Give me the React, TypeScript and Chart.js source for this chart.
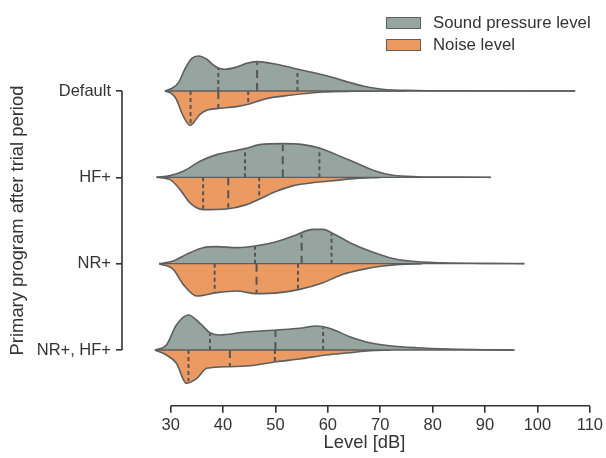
import React, { useEffect, useRef } from "react";
import { Chart, registerables } from "chart.js";

Chart.register(...registerables);

// ---------- data ----------
const CATEGORIES = ["Default", "HF+", "NR+", "NR+, HF+"];
const SERIES = ["Sound pressure level", "Noise level"];
const X_TICKS = [30, 40, 50, 60, 70, 80, 90, 100, 110];

// Kernel density (relative units) of each half-violin, sampled at levels in dB
const DEFAULT_SPL_X = [28.9, 30.2, 31.5, 32.7, 34, 35.3, 36.9, 38.4, 40.3, 42.6, 44.5, 46.4, 50.2, 54.3, 57.8, 61, 64.2, 66.7, 70.4, 76.9, 85, 107.2];
const DEFAULT_SPL_D = [0, 2.5, 8.4, 21.7, 32.4, 35, 31.7, 25, 21.7, 24, 27.7, 29.4, 26.7, 21.7, 17.7, 13.4, 8.4, 5, 1.7, 0.5, 0.2, 0];
const DEFAULT_NOISE_X = [28.9, 30.2, 31.1, 32.3, 33.7, 35.6, 37, 38.8, 42.6, 44.8, 48.3, 52.7, 59, 65, 75];
const DEFAULT_NOISE_D = [0, 2.5, 8.3, 24, 34.3, 23.3, 19, 17.6, 15.6, 13.3, 7.6, 4.3, 1, 0.3, 0];

const HF_SPL_X = [27.3, 29.9, 32.4, 35.6, 38.8, 44.2, 47, 51.4, 55.3, 58.4, 61.6, 65.4, 69.2, 72.4, 77, 85, 91.1];
const HF_SPL_D = [0, 1.7, 6, 16, 22.7, 28.7, 32.7, 33.7, 32.7, 29.4, 22.7, 14.4, 6, 2, 0.6, 0.2, 0];
const HF_NOISE_X = [27.3, 29.9, 31.8, 33.7, 36.2, 40.7, 44.5, 47, 50.2, 53.4, 57.8, 61.6, 65.4, 70];
const HF_NOISE_D = [0, 2.3, 12.3, 25.6, 32.3, 31.6, 27.3, 21.6, 14, 8.3, 5, 3, 1, 0];

const NR_SPL_X = [27.8, 30.5, 33, 36.2, 38.8, 42.6, 46.1, 50.2, 53.4, 57.2, 59.1, 60.7, 64.2, 68, 71.8, 75.6, 82, 90, 97.5];
const NR_SPL_D = [0, 2.6, 9.3, 16, 17, 16, 17.6, 22, 27.6, 34.3, 34.3, 31, 21, 12.6, 6, 2.6, 0.8, 0.3, 0];
const NR_NOISE_X = [27.8, 30.5, 32.4, 35, 38.8, 42.6, 46.4, 50.8, 54.6, 59.1, 62.9, 66.7, 70.5, 73.7, 78];
const NR_NOISE_D = [0, 5.7, 20.7, 32.4, 29, 27.4, 30, 29, 25.7, 19, 10.7, 5.7, 2.4, 0.7, 0];

const NRHF_SPL_X = [27, 29.2, 31.1, 33.4, 35.6, 37.5, 39.4, 43.8, 50.2, 54.6, 57.8, 60.3, 64.2, 68, 71.8, 76.9, 83.2, 90, 95.6];
const NRHF_SPL_D = [0, 5, 25, 35, 26.7, 17.3, 15, 17.7, 20, 21.7, 24, 21.7, 13.3, 7.3, 4.3, 2.3, 1, 0.3, 0];
const NRHF_NOISE_X = [27, 29.2, 31.1, 33, 35, 36.9, 41.3, 45.1, 50.2, 54.6, 59.7, 64.2, 68, 72];
const NRHF_NOISE_D = [0, 5, 13.3, 33.3, 28.3, 18.3, 16.7, 15.7, 11.7, 9, 5, 2.7, 0.7, 0];

// Quartiles (Q1, median, Q3) in dB
const SPL_QUARTILES = [
  [39.1, 46.5, 54.2],
  [44.2, 51.4, 58.4],
  [46.1, 55.0, 60.7],
  [37.5, 50.0, 59.1],
];
const NOISE_QUARTILES = [
  [33.8, 39.1, 44.8],
  [36.2, 41.0, 46.9],
  [38.4, 46.4, 54.3],
  [33.4, 41.3, 49.9],
];

// ---------- styling ----------
const GREY = "#96a59f";
const ORANGE = "#eb9a61";
const OUTLINE = "#5e5e5e";
const AXIS = "#333333";
const FONT = "'Liberation Sans', Arial, sans-serif";
const FONT_SIZE = 16.5;
const TITLE_SIZE = 18.4;
const LEGEND_SIZE = 16.8;
const DENS_SCALE = 1 / 86.33; // density unit -> category units

const SPL_X = [DEFAULT_SPL_X, HF_SPL_X, NR_SPL_X, NRHF_SPL_X];
const SPL_D = [DEFAULT_SPL_D, HF_SPL_D, NR_SPL_D, NRHF_SPL_D];
const NOISE_X = [DEFAULT_NOISE_X, HF_NOISE_X, NR_NOISE_X, NRHF_NOISE_X];
const NOISE_D = [DEFAULT_NOISE_D, HF_NOISE_D, NR_NOISE_D, NRHF_NOISE_D];

function interp(xs: number[], ds: number[], q: number): number {
  for (let k = 0; k < xs.length - 1; k++) {
    if (q >= xs[k] && q <= xs[k + 1]) {
      const t = (q - xs[k]) / (xs[k + 1] - xs[k]);
      return ds[k] + t * (ds[k + 1] - ds[k]);
    }
  }
  return 0;
}

function buildDatasets() {
  const ds: any[] = [];
  for (let i = 0; i < CATEGORIES.length; i++) {
    const halves = [
      { xs: SPL_X[i], d: SPL_D[i], sign: -1, color: GREY, q: SPL_QUARTILES[i], label: SERIES[0] },
      { xs: NOISE_X[i], d: NOISE_D[i], sign: 1, color: ORANGE, q: NOISE_QUARTILES[i], label: SERIES[1] },
    ];
    halves.forEach((h) => {
      ds.push({
        label: h.label,
        data: h.xs.map((x, k) => ({ x, y: i + h.sign * h.d[k] * DENS_SCALE })),
        fill: { value: i },
        backgroundColor: h.color,
        borderColor: OUTLINE,
        borderWidth: 1.6,
        pointRadius: 0,
        cubicInterpolationMode: "monotone",
        order: 3,
      });
      h.q.forEach((qv, j) => {
        const dv = interp(h.xs, h.d, qv);
        ds.push({
          label: h.label + " quartile",
          data: [
            { x: qv, y: i },
            { x: qv, y: i + h.sign * dv * DENS_SCALE * 0.97 },
          ],
          fill: false,
          borderColor: "#555555",
          borderWidth: 2,
          borderDash: j === 1 ? [8, 5] : [4, 3],
          pointRadius: 0,
          tension: 0,
          order: 1,
        });
      });
    });
    const lo = Math.min(SPL_X[i][0], NOISE_X[i][0]);
    const hi = Math.max(SPL_X[i][SPL_X[i].length - 1], NOISE_X[i][NOISE_X[i].length - 1]);
    ds.push({
      label: "center",
      data: [
        { x: lo, y: i },
        { x: hi, y: i },
      ],
      fill: false,
      borderColor: OUTLINE,
      borderWidth: 1.4,
      pointRadius: 0,
      order: 2,
    });
  }
  return ds;
}

const decorPlugin = {
  id: "decor",
  afterDraw(chart: any) {
    const { ctx, chartArea } = chart;
    const xs = chart.scales.x;
    const ys = chart.scales.y;
    ctx.save();
    ctx.strokeStyle = AXIS;
    ctx.lineWidth = 1.6;
    // x spine (trimmed to tick range)
    ctx.beginPath();
    ctx.moveTo(xs.getPixelForValue(X_TICKS[0]), chartArea.bottom);
    ctx.lineTo(xs.getPixelForValue(X_TICKS[X_TICKS.length - 1]), chartArea.bottom);
    ctx.stroke();
    // y spine (trimmed to category range)
    const yTop = ys.getPixelForValue(0);
    const yBot = ys.getPixelForValue(CATEGORIES.length - 1);
    ctx.beginPath();
    ctx.moveTo(chartArea.left, yTop);
    ctx.lineTo(chartArea.left, yBot);
    ctx.stroke();

    ctx.fillStyle = AXIS;
    ctx.font = `${TITLE_SIZE}px ${FONT}`;
    // x title
    ctx.textAlign = "center";
    ctx.textBaseline = "middle";
    ctx.fillText("Level [dB]", xs.getPixelForValue(67), 443);
    // y title
    ctx.save();
    ctx.translate(23, (yTop + yBot) / 2);
    ctx.rotate(-Math.PI / 2);
    ctx.textBaseline = "alphabetic";
    ctx.fillText("Primary program after trial period", 0, 0);
    ctx.restore();

    // legend
    ctx.font = `${LEGEND_SIZE}px ${FONT}`;
    const items = [
      { label: SERIES[0], color: GREY, y: 23 },
      { label: SERIES[1], color: ORANGE, y: 45 },
    ];
    items.forEach((it) => {
      ctx.fillStyle = it.color;
      ctx.fillRect(386.5, it.y - 5.5, 34, 11);
      ctx.strokeStyle = OUTLINE;
      ctx.lineWidth = 1;
      ctx.strokeRect(386.5, it.y - 5.5, 34, 11);
      ctx.fillStyle = AXIS;
      ctx.textAlign = "left";
      ctx.textBaseline = "middle";
      ctx.fillText(it.label, 433, it.y);
    });
    ctx.restore();
  },
};

export default function App() {
  const ref = useRef<HTMLCanvasElement | null>(null);
  useEffect(() => {
    if (!ref.current) return;
    const chart = new Chart(ref.current, {
      type: "line",
      data: { datasets: buildDatasets() },
      options: {
        animation: false,
        responsive: false,
        devicePixelRatio: 1,
        layout: { padding: { top: 35.3, right: 15.3, left: 0, bottom: 0 } },
        plugins: {
          legend: { display: false },
          tooltip: { enabled: false },
        },
        scales: {
          x: {
            type: "linear",
            min: 20.72,
            max: 110,
            afterBuildTicks: (s: any) => {
              s.ticks = X_TICKS.map((v) => ({ value: v }));
            },
            afterFit: (s: any) => {
              s.height = 52.3;
            },
            border: { display: false },
            grid: { drawOnChartArea: false, drawTicks: true, tickLength: 7, color: AXIS, lineWidth: 1.6 },
            ticks: { color: AXIS, font: { family: FONT, size: FONT_SIZE }, padding: 3, maxRotation: 0 },
          },
          y: {
            type: "linear",
            reverse: true,
            min: -0.6452,
            max: 3.6453,
            afterBuildTicks: (s: any) => {
              s.ticks = CATEGORIES.map((_, i) => ({ value: i }));
            },
            afterFit: (s: any) => {
              s.width = 122;
            },
            border: { display: false },
            grid: { drawOnChartArea: false, drawTicks: true, tickLength: 6, color: AXIS, lineWidth: 1.6 },
            ticks: {
              color: AXIS,
              font: { family: FONT, size: FONT_SIZE },
              padding: 5,
              callback: (v: any) => CATEGORIES[Math.round(Number(v))] ?? "",
            },
          },
        },
      },
      plugins: [decorPlugin],
    });
    return () => chart.destroy();
  }, []);
  return (
    <div style={{ position: "absolute", left: 0, top: 0, width: 606, height: 458, background: "#fff" }}>
      <canvas ref={ref} width={606} height={458} style={{ display: "block" }} />
    </div>
  );
}
